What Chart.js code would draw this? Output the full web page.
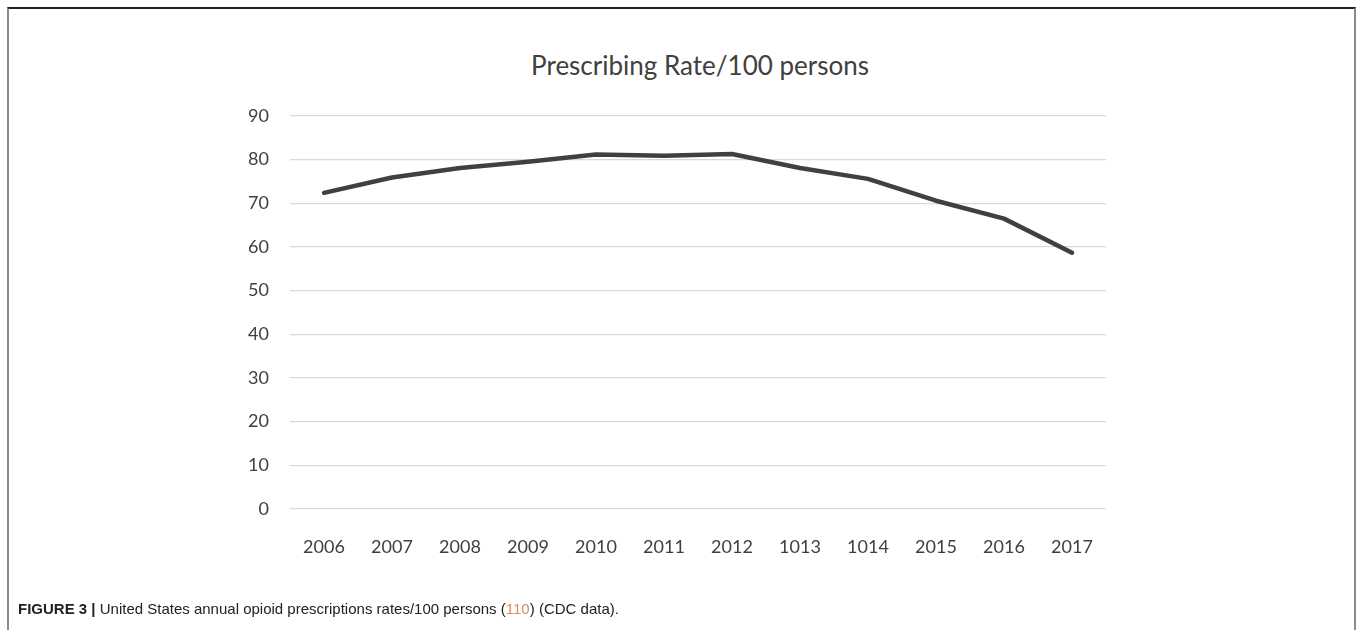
<!DOCTYPE html>
<html>
<head>
<meta charset="utf-8">
<title>Prescribing Rate/100 persons</title>
<script src="https://cdn.jsdelivr.net/npm/chart.js@4.4.1/dist/chart.umd.min.js"></script>
<style>
  html, body { margin: 0; padding: 0; background: #fff; }
  body { width: 1357px; height: 630px; position: relative; overflow: hidden; }
  #frame {
    position: absolute; left: 7px; top: 7px; width: 1349px; height: 640px;
    box-sizing: border-box;
    border-top: 2px solid #222; border-left: 2px solid #8a8a8a; border-right: 2px solid #8a8a8a;
  }
  #chartTitle {
    position: absolute; left: 300px; width: 800px; top: 49px;
    text-align: center; font: 26px Lato, "Open Sans", sans-serif; line-height: 32px;
    color: #404040;
  }
  #caption {
    position: absolute; left: 18px; top: 600px;
    font: 15px "Liberation Sans", Arial, sans-serif; line-height: 18px; color: #222;
  }
  #caption b { font-weight: bold; }
  #caption .ref { color: #d98c5f; }
  canvas { position: absolute; left: 0; top: 0; }
</style>
</head>
<body>
<div id="frame"></div>
<div id="chartTitle">Prescribing Rate/100 persons</div>
<canvas id="rateChart" width="1357" height="630"></canvas>
<div id="caption"><b>FIGURE 3 |</b> United States annual opioid prescriptions rates/100 persons (<span class="ref">110</span>) (CDC data).</div>

<script>
(() => {
  'use strict';

  // ===== Dados =====
  const years = ['2006', '2007', '2008', '2009', '2010', '2011', '2012', '1013', '1014', '2015', '2016', '2017'];
  const rates = [72.4, 75.9, 78.1, 79.5, 81.2, 80.9, 81.3, 78.1, 75.6, 70.6, 66.5, 58.7];
  const yTicks = [0, 10, 20, 30, 40, 50, 60, 70, 80, 90];

  // ===== Estilo =====
  const INK  = '#404040';
  const GRID = '#d9d9d9';
  const FONT = { family: 'Lato, "Open Sans", sans-serif', size: 18 };

  const cvs = document.getElementById('rateChart');
  new Chart(cvs.getContext('2d'), {
    type: 'line',
    data: {
      labels: years,
      datasets: [{
        data: rates,
        borderColor: INK,
        borderWidth: 4.5,
        borderCapStyle: 'round',
        borderJoinStyle: 'round',
        pointRadius: 0,
        tension: 0,
        fill: false
      }]
    },
    options: {
      responsive: false,
      animation: false,
      layout: { padding: { left: 200, right: 251, top: 116, bottom: 0 } },
      plugins: { legend: { display: false }, tooltip: { enabled: false } },
      scales: {
        x: {
          offset: true,
          grid: { display: false },
          border: { display: false },
          ticks: { color: INK, font: FONT, padding: 19, maxRotation: 0 },
          afterFit: s => { s.height = 121; }
        },
        y: {
          min: 0,
          max: yTicks[yTicks.length - 1],
          afterBuildTicks: s => { s.ticks = yTicks.map(v => ({ value: v })); },
          grid: { color: GRID, lineWidth: 1.3, drawTicks: false },
          border: { display: false },
          ticks: { color: INK, font: FONT, padding: 21 },
          afterFit: s => { s.width = 90; }
        }
      }
    }
  });
})();
</script>
</body>
</html>
